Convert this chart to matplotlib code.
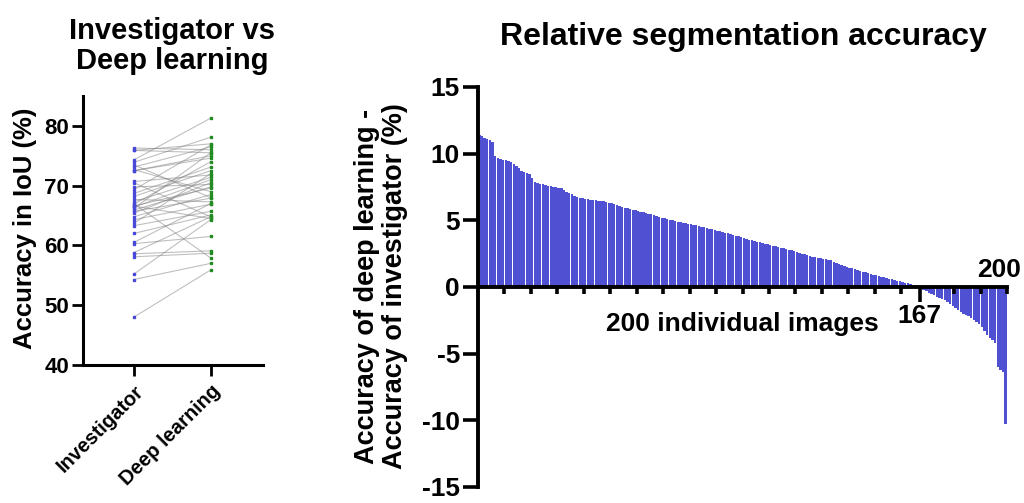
import numpy as np
import matplotlib
matplotlib.use("Agg")
import matplotlib.pyplot as plt

plt.rcParams['font.family'] = ['Liberation Sans', 'DejaVu Sans']
plt.rcParams['font.weight'] = 'bold'
plt.rcParams['axes.unicode_minus'] = False

# paired IoU accuracy (%) per image, investigator vs deep learning
investigator = [76.3, 75.9, 74.3, 75.9, 73.9, 73.1, 72.7, 72.5, 72.5, 70.7,
                70.5, 69.3, 68.7, 68.2, 67.7, 67.3, 66.9, 66.6, 66.6, 66.4,
                65.9, 65.7, 65.4, 64.8, 64.3, 63.7, 63.3, 62.0, 60.5, 60.3,
                58.8, 58.6, 58.1, 55.2, 54.3, 48.0, 67.0, 66.2, 69.8, 73.5]
deep_learning = [76.0, 77.0, 81.3, 75.5, 78.1, 76.5, 69.0, 75.0, 74.6, 71.8,
                 64.8, 76.8, 73.1, 72.5, 67.3, 71.4, 74.0, 69.6, 64.5, 71.0,
                 69.8, 67.9, 70.5, 68.5, 66.9, 72.0, 65.7, 65.1, 67.0, 61.5,
                 64.8, 59.1, 58.7, 64.3, 57.0, 55.9, 57.9, 75.5, 70.2, 68.0]
groups = ['Investigator', 'Deep learning']

# sorted per-image difference (deep learning - investigator), 200 images
diff = [11.4, 11.3, 11.2, 11.1, 11.0, 10.9, 9.8, 9.7, 9.6, 9.55,
        9.5, 9.45, 9.4, 9.2, 9.05, 8.9, 8.7, 8.6, 8.55, 8.5,
        8.2, 7.85, 7.8, 7.75, 7.7, 7.65, 7.6, 7.55, 7.5, 7.5,
        7.45, 7.4, 7.3, 7.15, 7.05, 6.95, 6.85, 6.75, 6.7, 6.65,
        6.6, 6.58, 6.55, 6.53, 6.5, 6.48, 6.45, 6.42, 6.38, 6.33,
        6.28, 6.22, 6.15, 6.08, 6.0, 5.95, 5.9, 5.85, 5.8, 5.75,
        5.7, 5.65, 5.6, 5.55, 5.5, 5.45, 5.4, 5.33, 5.27, 5.2,
        5.15, 5.1, 5.05, 5.0, 4.95, 4.9, 4.86, 4.82, 4.78, 4.74,
        4.7, 4.66, 4.62, 4.58, 4.53, 4.48, 4.43, 4.38, 4.33, 4.28,
        4.23, 4.18, 4.13, 4.08, 4.03, 3.98, 3.92, 3.86, 3.8, 3.74,
        3.68, 3.62, 3.56, 3.5, 3.45, 3.4, 3.35, 3.3, 3.25, 3.2,
        3.15, 3.1, 3.05, 3.0, 2.95, 2.9, 2.85, 2.8, 2.74, 2.68,
        2.62, 2.56, 2.5, 2.44, 2.38, 2.32, 2.28, 2.24, 2.2, 2.16,
        2.12, 2.08, 2.04, 2.0, 1.9, 1.8, 1.72, 1.65, 1.58, 1.52,
        1.46, 1.4, 1.34, 1.28, 1.22, 1.16, 1.1, 1.04, 0.98, 0.92,
        0.87, 0.82, 0.77, 0.72, 0.67, 0.62, 0.57, 0.52, 0.47, 0.42,
        0.37, 0.32, 0.27, 0.22, 0.17, 0.12, 0.06, -0.08, -0.2, -0.3,
        -0.42, -0.52, -0.62, -0.72, -0.8, -0.88, -0.96, -1.1, -1.25, -1.4,
        -1.55, -1.7, -1.85, -2.0, -2.1, -2.2, -2.3, -2.45, -2.6, -2.8,
        -3.0, -3.3, -3.6, -3.8, -4.0, -4.2, -6.0, -6.2, -6.4, -10.3]
n_better = 167

W, H = 1024, 503
fig = plt.figure(figsize=(W / 100, H / 100), dpi=100)

# ---- left: paired dot plot
ax1 = fig.add_axes([83 / W, 1 - 365 / H, 180 / W, 269 / H])
for a, b in zip(investigator, deep_learning):
    ax1.plot([0, 1], [a, b], color='#808080', lw=0.8, alpha=0.5, zorder=1)
ax1.plot(np.zeros(len(investigator)), investigator, 's', ms=1.7,
         color='#4848d8', zorder=2)
ax1.plot(np.ones(len(deep_learning)), deep_learning, 's', ms=1.7,
         color='#228b22', zorder=2)
ax1.set_xlim(-0.66, 1.68)
ax1.set_ylim(40, 85)
ax1.set_yticks([40, 50, 60, 70, 80])
ax1.set_xticks([0, 1])
ax1.set_xticklabels(groups, rotation=45, ha='right', rotation_mode='anchor',
                    fontsize=14.5)
ax1.tick_params(axis='y', labelsize=16, width=2, length=8, pad=2)
ax1.tick_params(axis='x', width=2, length=8, pad=4)
for s in ['top', 'right']:
    ax1.spines[s].set_visible(False)
for s in ['left', 'bottom']:
    ax1.spines[s].set_linewidth(2.2)
fig.text(172 / W, 1 - 46 / H, 'Investigator vs\nDeep learning', ha='center',
         va='center', fontsize=21, fontweight='bold', linespacing=1.1)
fig.text(25 / W, 1 - 228 / H, 'Accuracy in IoU (%)', rotation=90,
         ha='center', va='center', fontsize=18.5, fontweight='bold')

# ---- right: sorted difference bars
ax2 = fig.add_axes([478 / W, 1 - 487 / H, 529 / W, 400 / H])
idx = np.arange(1, len(diff) + 1)
ax2.bar(idx - 0.5, diff, width=0.9, color='#5050d2', edgecolor='none',
        zorder=1)
ax2.set_xlim(0, 200)
ax2.set_ylim(-15, 15)
ax2.set_yticks([-15, -10, -5, 0, 5, 10, 15])
ax2.tick_params(axis='y', labelsize=19, width=2.6, length=11, pad=2)
ax2.spines['bottom'].set_position(('data', 0))
for s in ['top', 'right']:
    ax2.spines[s].set_visible(False)
for s in ['left', 'bottom']:
    ax2.spines[s].set_linewidth(2.8)
ax2.spines['bottom'].set_zorder(3)
ax2.set_xticks([n_better])
ax2.set_xticklabels([str(n_better)], fontsize=19)
ax2.set_xticks([t for t in range(10, 201, 10) if t != 170], minor=True)
ax2.tick_params(axis='x', which='major', width=2.6, length=11, pad=1)
ax2.tick_params(axis='x', which='minor', width=2.6, length=5)
ax2.text(197, 1.3, str(len(diff)), ha='center', va='center', fontsize=19,
         fontweight='bold')
ax2.text(100, -2.8, '%d individual images' % len(diff), ha='center',
         va='center', fontsize=19, fontweight='bold')
fig.text(743 / W, 1 - 37 / H, 'Relative segmentation accuracy', ha='center',
         va='center', fontsize=23, fontweight='bold')
fig.text(381 / W, 1 - 286 / H,
         'Accuracy of deep learning -\nAccuracy of investigator (%)',
         rotation=90, ha='center', va='center', fontsize=19.5,
         fontweight='bold', linespacing=1.1)

fig.savefig('out.png', dpi=100)
